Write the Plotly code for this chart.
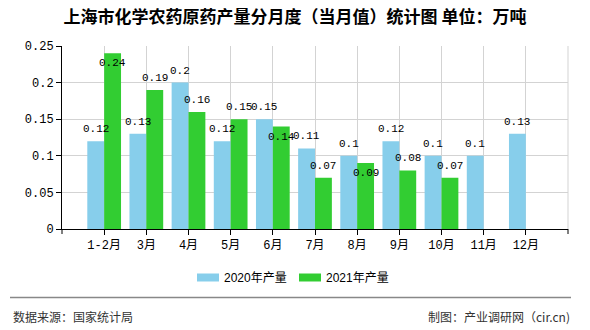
import plotly.graph_objects as go

categories = ["1-2月", "3月", "4月", "5月", "6月", "7月", "8月", "9月", "10月", "11月", "12月"]
values_2020 = [0.12, 0.13, 0.2, 0.12, 0.15, 0.11, 0.1, 0.12, 0.1, 0.1, 0.13]
values_2021 = [0.24, 0.19, 0.16, 0.15, 0.14, 0.07, 0.09, 0.08, 0.07, None, None]
label_inside_2021 = [True, False, False, False, True, False, True, False, False, False, False]
series_names = ["2020年产量", "2021年产量"]
series_colors = ["#87CEEB", "#32CD32"]
y_ticks = [0, 0.05, 0.1, 0.15, 0.2, 0.25]
y_ticktext = ["0", "0.05", "0.1", "0.15", "0.2", "0.25"]

mono = "Liberation Mono, DejaVu Sans Mono, Noto Sans CJK SC"
cjk = "Noto Sans CJK SC"

ML, MR, MT, MB = 62, 22, 46, 101
plot_w = 590 - ML - MR
plot_h = 330 - MT - MB

def px_x(px):
    return (px - ML) / plot_w

def px_y(py):
    return (330 - MB - py) / plot_h

fig = go.Figure()
for name, vals, col in zip(series_names, [values_2020, values_2021], series_colors):
    fig.add_trace(go.Bar(x=categories, y=vals, name=name,
                         marker=dict(color=col, line=dict(width=0))))

bar_half = plot_w / 12 * 0.8 / 4

annotations = []
for c, v in zip(categories, values_2020):
    annotations.append(dict(x=c, y=v, xref="x", yref="y", text=f"{v:g}", showarrow=False,
                            xshift=-bar_half, yshift=4, yanchor="bottom", xanchor="center",
                            font=dict(family=mono, size=11, color="#000")))
for c, v, ins in zip(categories, values_2021, label_inside_2021):
    if v is None:
        continue
    annotations.append(dict(x=c, y=v, xref="x", yref="y", text=f"{v:g}", showarrow=False,
                            xshift=bar_half, yshift=(-2 if ins else 4),
                            yanchor=("top" if ins else "bottom"), xanchor="center",
                            font=dict(family=mono, size=11, color="#000")))

shapes = [
    dict(type="line", xref="paper", yref="paper", x0=1, x1=1, y0=0, y1=1,
         line=dict(color="#d3d3d3", width=1)),
    dict(type="line", xref="paper", yref="paper", x0=0, x1=0, y0=0, y1=-5 / plot_h,
         line=dict(color="#000", width=1)),
    dict(type="line", xref="paper", yref="paper", x0=1, x1=1, y0=0, y1=-5 / plot_h,
         line=dict(color="#000", width=1)),
    dict(type="line", xref="paper", yref="paper",
         x0=px_x(10), x1=px_x(571), y0=px_y(297.5), y1=px_y(297.5),
         line=dict(color="#888", width=1.5)),
]

# custom legend (wide swatches like the reference)
legend_x = [197, 299]
for lx, name, col in zip(legend_x, series_names, series_colors):
    shapes.append(dict(type="rect", xref="paper", yref="paper",
                       x0=px_x(lx), x1=px_x(lx + 22), y0=px_y(281.5), y1=px_y(273.5),
                       fillcolor=col, line=dict(width=0)))
    annotations.append(dict(text=name, xref="paper", yref="paper",
                            x=px_x(lx + 25), y=px_y(277.5), xanchor="left", yanchor="middle",
                            showarrow=False,
                            font=dict(family="Liberation Sans, Noto Sans CJK SC", size=12, color="#000")))

annotations += [
    dict(text="数据来源：国家统计局", xref="paper", yref="paper",
         x=px_x(11), y=px_y(316), xanchor="left", yanchor="middle", showarrow=False,
         font=dict(family=cjk, size=12, color="#333")),
    dict(text="制图：产业调研网（cir.cn)", xref="paper", yref="paper",
         x=px_x(572), y=px_y(316), xanchor="right", yanchor="middle", showarrow=False,
         font=dict(family=cjk, size=12, color="#333")),
]

fig.update_layout(
    width=590, height=330,
    margin=dict(l=ML, r=MR, t=MT, b=MB),
    paper_bgcolor="white", plot_bgcolor="white",
    barmode="group", bargap=0.2, bargroupgap=0,
    title=dict(text="上海市化学农药原药产量分月度（当月值）统计图 单位：万吨",
               x=0.5, xanchor="center", y=1 - 17 / 330, yanchor="middle",
               font=dict(family=cjk, size=17, color="#000", weight="bold")),
    showlegend=False,
    xaxis=dict(type="category", range=[-1, 11],
               showline=True, linecolor="#000", linewidth=1,
               ticks="outside", ticklen=5, tickcolor="#000",
               showgrid=True, gridcolor="#d3d3d3", gridwidth=1,
               tickfont=dict(family=mono, size=12, color="#000"),
               fixedrange=True),
    yaxis=dict(range=[0, 0.25], tickvals=y_ticks, ticktext=y_ticktext,
               showline=True, linecolor="#000", linewidth=1,
               ticks="outside", ticklen=5, tickcolor="#000",
               showgrid=True, gridcolor="#d3d3d3", gridwidth=1,
               zeroline=False,
               tickfont=dict(family=mono, size=12, color="#000"),
               fixedrange=True),
    shapes=shapes,
    annotations=annotations,
)

fig.write_html("out.html")
